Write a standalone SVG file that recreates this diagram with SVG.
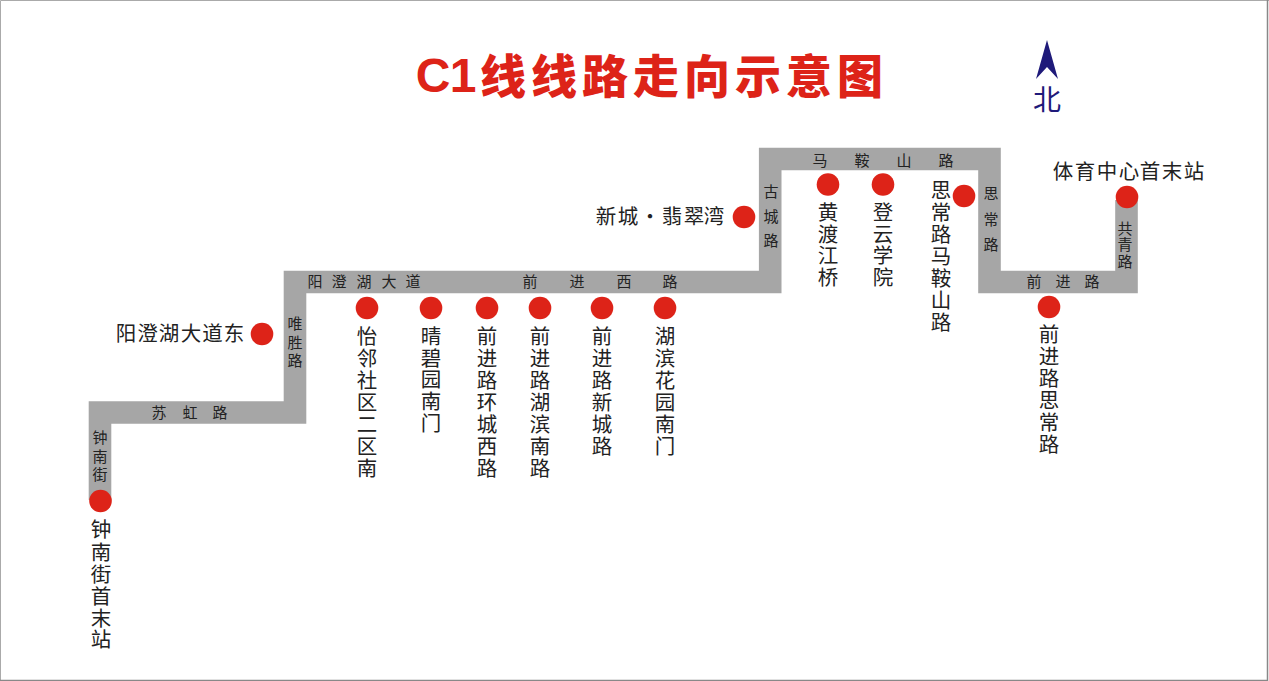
<svg xmlns="http://www.w3.org/2000/svg" width="1269" height="681" viewBox="0 0 1269 681">
<style>
text{font-family:"Noto Sans CJK SC","Noto Sans",sans-serif;text-anchor:middle}
.st{font-size:20.5px;fill:#222}
.rd{font-size:15px;fill:#222}
.dot{fill:#dd2318}
.tt{font-size:46px;font-weight:900;fill:#dd2318}
</style>
<rect width="1269" height="681" fill="#fff"/>
<path d="M0.500,681 V0.500 H1269" fill="none" stroke="#aaa"/>
<path d="M1267.500,0 V680.500 H0" fill="none" stroke="#888" stroke-width="1.500"/>
<g id="title">
<text x="433 463" y="92 92" style="font-family:'Liberation Sans',sans-serif;font-size:48px;font-weight:700;fill:#dd2318">C1</text>
<text class="tt" x="503 554 605 656 707 758 809 860" y="92.500 92.500 92.500 92.500 92.500 92.500 92.500 92.500">线线路走向示意图</text>
</g>
<g id="north">
<path d="M1047,40 L1058,79 L1047,67 L1036,79 Z" fill="#1f1a7a"/>
<text x="1047" y="110" font-size="28" fill="#1f1a7a">北</text>
</g>
<g id="connectors">
<path id="route" d="M100,500 V412.5 H295 V282 H770.2 V159 H989.5 V282 H1126.5 V200" fill="none" stroke="#a6a6a6" stroke-width="22.6" stroke-linejoin="miter"/>
</g>
<g id="road-labels">
<text class="rd" x="100 100 100" y="443 462 480">钟南街</text>
<text class="rd" x="159 190 220" y="418 418 418">苏虹路</text>
<text class="rd" x="295 295 295" y="329 348 366">唯胜路</text>
<text class="rd" x="315 339 364 389 413" y="287 287 287 287 287">阳澄湖大道</text>
<text class="rd" x="530 577 624 670" y="287 287 287 287">前进西路</text>
<text class="rd" x="771 771 771" y="197 222 246">古城路</text>
<text class="rd" x="820 862 904 946" y="165.500 165.500 165.500 165.500">马鞍山路</text>
<text class="rd" x="991 991 991" y="199 225 250">思常路</text>
<text class="rd" x="1034 1063 1092" y="287 287 287">前进路</text>
<text class="rd" x="1125 1125 1125" y="234 250 267">共青路</text>
</g>
<g id="s1"><circle class="dot" cx="100.500" cy="501" r="11.300"/><text class="st" x="101 101 101 101 101 101" y="537 560 582 604 626 647">钟南街首末站</text></g>
<g id="s2"><circle class="dot" cx="262" cy="334" r="11.300"/><text class="st" x="126 147.500 169 191 212.500 234" y="341 341 341 341 341 341">阳澄湖大道东</text></g>
<g id="s3"><circle class="dot" cx="367" cy="308" r="11.300"/><text class="st" x="367 367 367 367 367 367 367" y="344 366 388 410 432 454 476">怡邻社区二区南</text></g>
<g id="s4"><circle class="dot" cx="431" cy="308" r="11.300"/><text class="st" x="431 431 431 431 431" y="344 366 387 409 431">晴碧园南门</text></g>
<g id="s5"><circle class="dot" cx="487" cy="308" r="11.300"/><text class="st" x="487 487 487 487 487 487 487" y="344 366 388 410 432 454 476">前进路环城西路</text></g>
<g id="s6"><circle class="dot" cx="540" cy="308" r="11.300"/><text class="st" x="540 540 540 540 540 540 540" y="344 366 388 410 432 454 476">前进路湖滨南路</text></g>
<g id="s7"><circle class="dot" cx="602" cy="308" r="11.300"/><text class="st" x="602 602 602 602 602 602" y="344 366 388 410 432 454">前进路新城路</text></g>
<g id="s8"><circle class="dot" cx="665" cy="308" r="11.300"/><text class="st" x="665 665 665 665 665 665" y="344 366 388 410 432 454">湖滨花园南门</text></g>
<g id="s9"><circle class="dot" cx="744" cy="217" r="11.300"/><text class="st" x="606 628 650 672 694 714" y="224 224 224 224 224 224">新城·翡翠湾</text></g>
<g id="s10"><circle class="dot" cx="828" cy="184.500" r="11.300"/><text class="st" x="828 828 828 828" y="220 242 263 285">黄渡江桥</text></g>
<g id="s11"><circle class="dot" cx="883" cy="184.500" r="11.300"/><text class="st" x="883 883 883 883" y="220 242 263 285">登云学院</text></g>
<g id="s12"><circle class="dot" cx="964" cy="196" r="11.300"/><text class="st" x="941 941 941 941 941 941 941" y="198 220 242 264 286 308 330">思常路马鞍山路</text></g>
<g id="s13"><circle class="dot" cx="1049" cy="307" r="11.300"/><text class="st" x="1049 1049 1049 1049 1049 1049" y="342 364 386 408 430 452">前进路思常路</text></g>
<g id="s14"><circle class="dot" cx="1127" cy="197" r="11.300"/><text class="st" x="1063 1085 1107 1129 1150 1172 1194" y="179 179 179 179 179 179 179">体育中心首末站</text></g>
</svg>
